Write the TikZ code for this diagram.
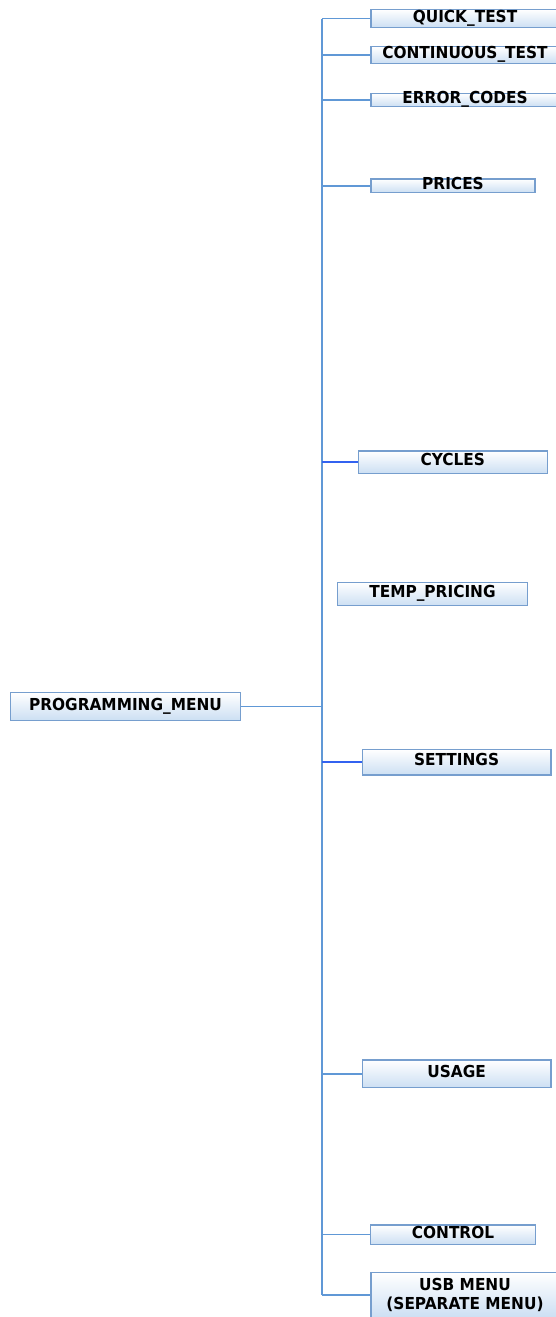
\documentclass[tikz,border=0pt]{standalone}
\usepackage{fontspec}
\newfontfamily\boxfont[FakeStretch=0.93]{DejaVu Sans}
\definecolor{boxbot}{RGB}{204,223,243}
\definecolor{boxline}{RGB}{118,158,206}
\definecolor{trunkcol}{RGB}{96,152,214}
\definecolor{darkline}{RGB}{50,98,240}
\tikzset{
  menubox/.style={draw=boxline, line width=1.3pt, top color=white, bottom color=boxbot,
    inner sep=0pt, font=\boxfont\bfseries\fontsize{16.5}{20}\selectfont,
    text height=0.73em, text depth=0pt},
  trunk/.style={draw=trunkcol, line width=1.7pt},
  darkbranch/.style={draw=darkline, line width=2.3pt}
}
\begin{document}
\begin{tikzpicture}[x=1pt,y=-1pt]
\useasboundingbox (0,0) rectangle (556,1317);
\node[menubox, minimum width=188pt, minimum height=18pt] (qt) at (465,18.5) {QUICK\_TEST};
\node[menubox, minimum width=188pt, minimum height=16.6pt] (ct) at (465,55) {CONTINUOUS\_TEST};
\node[menubox, minimum width=188pt, minimum height=13.4pt] (ec) at (465,100) {ERROR\_CODES};
\node[menubox, minimum width=164pt, minimum height=13.7pt] (pr) at (453,185.8) {PRICES};
\node[menubox, minimum width=189pt, minimum height=22.3pt] (cy) at (452.8,462.2) {CYCLES};
\node[menubox, minimum width=189.6pt, minimum height=23.4pt] (tp) at (432.5,594) {TEMP\_PRICING};
\node[menubox, minimum width=230.4pt, minimum height=27.6pt] (pm) at (125.5,706.5) {PROGRAMMING\_MENU};
\node[menubox, minimum width=188.7pt, minimum height=25.7pt] (se) at (456.6,762.2) {SETTINGS};
\node[menubox, minimum width=188.7pt, minimum height=27.7pt] (us) at (456.6,1073.8) {USAGE};
\node[menubox, minimum width=164.6pt, minimum height=19.3pt] (co) at (453,1234.6) {CONTROL};
\node[menubox, minimum width=188pt, minimum height=45pt, text height=, text depth=, align=center] (usb) at (465,1295.2) {USB MENU\\[-1pt](SEPARATE MENU)};
\coordinate (tx) at (322.3,0);
\draw[trunk] (qt.west -| tx) -- (usb.west -| tx);
\draw[trunk] (pm.east) -- (pm.east -| tx);
\foreach \n in {qt,ct,ec,pr,us,co,usb}{
  \draw[trunk] (\n.west -| tx) -- (\n.west);
}
\draw[darkbranch] (cy.west -| tx) -- (cy.west);
\draw[darkbranch] (se.west -| tx) -- (se.west);
\end{tikzpicture}
\end{document}
